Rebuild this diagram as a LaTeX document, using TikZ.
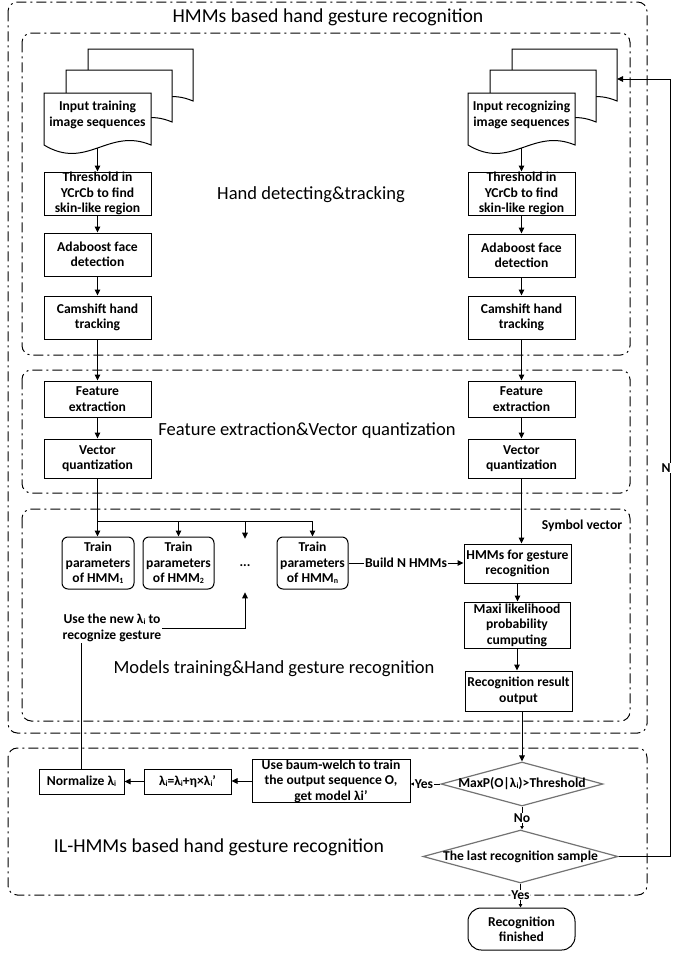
\documentclass[tikz,border=0pt]{standalone}
\usepackage{fontspec}
\setmainfont{Carlito}
\usetikzlibrary{arrows.meta,shapes.geometric,calc}
\newcommand\sbs[1]{\raisebox{-0.6pt}{\fontsize{6}{6}\selectfont #1}}
\begin{document}
\begin{tikzpicture}[x=0.75pt,y=-0.75pt,
  sz/.style 2 args={minimum width=#1*0.75pt, minimum height=#2*0.75pt},
  bx/.style={draw, line width=0.75pt, fill=white, inner sep=0pt, align=center, font=\fontsize{10.2}{11.6}\selectfont\bfseries},
  rbx/.style={bx, rounded corners=4.5pt},
  lbl/.style={inner sep=0.6pt, fill=white, align=center, font=\fontsize{10.2}{11.6}\selectfont\bfseries},
  sect/.style={inner sep=0pt, font=\fontsize{13.9}{15}\selectfont},
  bigt/.style={inner sep=0pt, font=\fontsize{14.8}{16}\selectfont},
  grp/.style={draw, line width=0.75pt, rounded corners=7pt, dash pattern=on 7.5pt off 3pt on 1.5pt off 3pt},
  arr/.style={line width=0.75pt, -{Triangle[length=4.5pt,width=4.2pt]}},
  arrs/.style={line width=0.75pt, -{Triangle[length=2.5pt,width=2.5pt]}},
  ln/.style={line width=0.75pt},
  docsh/.style={draw, line width=0.75pt, fill=white},
  dia/.style={draw=black!55, line width=0.9pt, diamond, inner sep=0pt, fill=white},
]
\useasboundingbox (0,0) rectangle (672,953);

% group frames
\draw[grp] (8,2) rectangle (647,733);
\draw[grp] (22,33) rectangle (630,355);
\draw[grp] (22,370) rectangle (630,493);
\draw[grp] (22,509) rectangle (630,721);
\draw[grp] (8,748) rectangle (647,895);

% titles
\node[bigt] (title) at (328,17) {HMMs based hand gesture recognition};
\node[sect] (s1) at (311,195) {Hand detecting\&tracking};
\node[sect] (s2) at (307,431) {Feature extraction\&Vector quantization};
\node[sect] (s3) at (274,669) {Models training\&Hand gesture recognition};
\node[bigt] (s4) at (219,847) {IL-HMMs based hand gesture recognition};

% document stacks
\draw[docsh] (88,49) -- (193,49) -- (193,101) .. controls (151,83) and (130,127) .. (88,101) -- cycle;
\draw[docsh] (66,70) -- (172,70) -- (172,122) .. controls (130,104) and (108,148) .. (66,122) -- cycle;
\draw[docsh] (44,93) -- (151,93) -- (151,145) .. controls (108,127) and (87,171) .. (44,145) -- cycle;
\node[lbl, fill=none] (docL) at (97.5,115) {Input training\\image sequences};
\coordinate (docLb) at (97.5,148);

\draw[docsh] (512,49) -- (617,49) -- (617,101) .. controls (575,83) and (554,127) .. (512,101) -- cycle;
\draw[docsh] (490,70) -- (596,70) -- (596,122) .. controls (554,104) and (532,148) .. (490,122) -- cycle;
\draw[docsh] (468,93) -- (575,93) -- (575,145) .. controls (532,127) and (511,171) .. (468,145) -- cycle;
\node[lbl, fill=none] (docR) at (521.5,115) {Input recognizing\\image sequences};
\coordinate (docRb) at (521.5,148);
\coordinate (docRback) at (617,79);

% left column
\node[bx, sz={107}{43}] (thL) at (97.5,193.5) {Threshold in\\YCrCb to find\\skin-like region};
\node[bx, sz={107}{43}] (adaL) at (97.5,254.5) {Adaboost face\\detection};
\node[bx, sz={107}{43}] (camL) at (97.5,317.5) {Camshift hand\\tracking};
\node[bx, sz={107}{36}] (featL) at (97.5,399) {Feature\\extraction};
\node[bx, sz={107}{39}] (vecL) at (97.5,458.5) {Vector\\quantization};

% right column
\node[bx, sz={107}{43}] (thR) at (521.5,193.5) {Threshold in\\YCrCb to find\\skin-like region};
\node[bx, sz={107}{43}] (adaR) at (521.5,255.5) {Adaboost face\\detection};
\node[bx, sz={107}{43}] (camR) at (521.5,317.5) {Camshift hand\\tracking};
\node[bx, sz={107}{36}] (featR) at (521.5,399) {Feature\\extraction};
\node[bx, sz={107}{39}] (vecR) at (521.5,458.5) {Vector\\quantization};

% models
\node[rbx, sz={72}{52}] (tr1) at (98,563) {Train\\parameters\\of HMM\sbs{1}};
\node[rbx, sz={71}{52}] (tr2) at (178.5,563) {Train\\parameters\\of HMM\sbs{2}};
\node[lbl, fill=none, sz={20}{53}] (dots) at (245,565.5) {...};
\node[rbx, sz={71}{52}] (trn) at (312.5,563) {Train\\parameters\\of HMM\sbs{n}};
\node[bx, sz={107}{39}] (hmm) at (517.5,563.5) {HMMs for gesture\\recognition};
\node[bx, sz={106}{46}] (maxi) at (517,625) {Maxi likelihood\\probability\\cumputing};
\node[bx, sz={107}{40}] (res) at (518.5,691) {Recognition result\\output};
\node[lbl, fill=none] (symv) at (582,526) {Symbol vector};
\node[lbl, fill=none] (usenew) at (112,628) {Use the new λ\sbs{i} to\\recognize gesture};

% IL-HMMs
\node[bx, sz={85}{25}] (norm) at (81.5,781.5) {Normalize λ\sbs{i}};
\node[bx, sz={87}{25}] (lam) at (187.5,781.5) {λ\sbs{i}=λ\sbs{i}+η×λ\sbs{i}'};
\node[bx, sz={158}{38}] (baum) at (331,781) {Use baum-welch to train\\the output sequence O,\\get model λi'};
\node[dia, sz={162}{44}] (d1) at (522,784) {};
\node[lbl, fill=none] (d1t) at (d1) {MaxP(O|λ\sbs{i})>Threshold};
\node[dia, sz={195}{53}] (d2) at (520.5,856.5) {};
\node[lbl, fill=none] (d2t) at (d2) {The last recognition sample};
\node[bx, sz={107}{42}, rounded corners=10pt] (fin) at (521.5,929) {Recognition\\finished};

% connectors left
\draw[arr] (docLb) -- (docLb |- thL.north);
\draw[arr] (thL.south) -- (adaL.north);
\draw[arr] (adaL.south) -- (camL.north);
\draw[arr] (camL.south) -- (featL.north);
\draw[arr] (featL.south) -- (vecL.north);
\coordinate (br) at (97.5,521);
\draw[ln] (vecL.south) -- (br) -- (trn.north |- br);
\draw[arr] (br) -- (br |- tr1.north);
\draw[arr] (tr2.north |- br) -- (tr2.north);
\draw[arr] (dots.north |- br) -- (dots.north);
\draw[arr] (trn.north |- br) -- (trn.north);
\draw[arr] (trn.east) -- node[lbl]{Build N HMMs} (trn.east -| hmm.west);

% connectors right
\draw[arr] (docRb) -- (docRb |- thR.north);
\draw[arr] (thR.south) -- (adaR.north);
\draw[arr] (adaR.south) -- (camR.north);
\draw[arr] (camR.south) -- (featR.north);
\draw[arr] (featR.south) -- (vecR.north);
\draw[arr] (vecR.south) -- (vecR.south |- hmm.north);
\draw[arr] (hmm.south) -- (hmm.south |- maxi.north);
\draw[arr] (maxi.south) -- (maxi.south |- res.north);
\draw[arr] (d1.north |- res.south) -- (d1.north);

% IL-HMMs connectors
\draw[arr] (d1.west) -- node[lbl, pos=0.55]{Yes} (d1.west -| baum.east);
\draw[arr] (baum.west) -- (baum.west -| lam.east);
\draw[arr] (lam.west) -- (norm.east);
\draw[ln] (norm.north) -- (norm.north |- usenew.south);
\draw[arr] (usenew.east) -- (usenew.east -| dots.south) -- (dots.south);
\draw[arrs] (d1.south) -- node[lbl]{No} (d1.south |- d2.north);
\draw[arrs] (d2.south) -- node[lbl, pos=0.48]{Yes} (d2.south |- fin.north);
\coordinate (fbB) at (670,856.5);
\coordinate (fbT) at (670,79);
\draw[arr] (d2.east) -- (fbB) -- node[lbl, pos=0.5, xshift=-3pt]{N} (fbT) -- (docRback);
\end{tikzpicture}
\end{document}
